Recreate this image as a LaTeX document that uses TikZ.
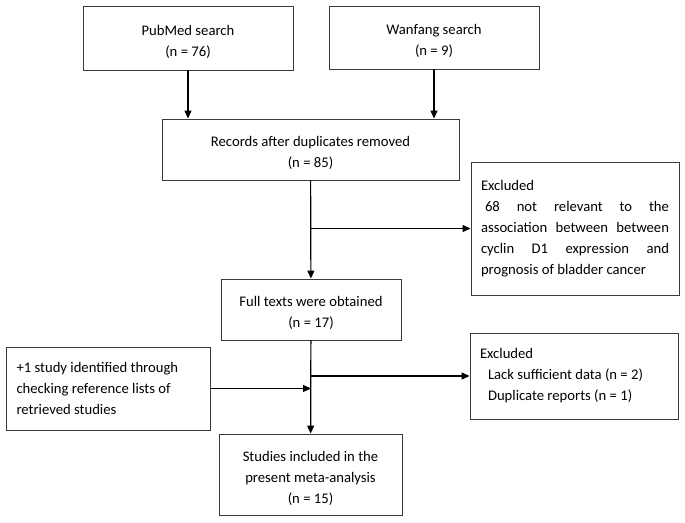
\documentclass[tikz,border=0pt]{standalone}
\usepackage{fontspec}
\setmainfont{Carlito}
\usetikzlibrary{positioning, calc, arrows.meta}
\definecolor{boxLine}{HTML}{3A3A3A}

\tikzset{
  flowbox/.style={draw=boxLine, line width=0.9pt, align=flush center, inner xsep=10pt, inner ysep=0pt,
    text width=#1, text height=18pt, font=\fontsize{14.67pt}{21pt}\selectfont},
  sidebox/.style={draw=boxLine, line width=0.9pt, inner xsep=10pt, inner ysep=0pt,
    text width=#1, font=\fontsize{14.67pt}{21pt}\selectfont},
  flowarrow/.style={-{Triangle[length=8pt,width=7pt]}, line width=1.2pt}
}

\begin{document}
\begin{tikzpicture}[x=1pt,y=-1pt]
\useasboundingbox (0,0) rectangle (685,522);

% searches
\node[flowbox=190pt, minimum height=64pt] (pubmed) at (188,38) {PubMed search\\(n = 76)};
\node[flowbox=190pt, minimum height=63pt] (wanfang) at (434,37.5) {Wanfang search\\(n = 9)};

% main column
\node[flowbox=277pt, minimum height=61pt] (records) at (310.5,149.5) {Records after duplicates removed\\(n = 85)};
\node[flowbox=160pt, minimum height=61pt] (fulltext) at (311,309.5) {Full texts were obtained\\(n = 17)};
\node[flowbox=163pt, minimum height=81pt] (included) at (310.5,474.5) {Studies included in the\\present meta-analysis\\(n = 15)};

% side boxes
\node[sidebox=188pt, align=justify, minimum height=133pt] (excludedA) at (575,228.5)
  {Excluded\\\hspace*{4pt}68 not relevant to the\linebreak association between between\linebreak cyclin D1 expression and\linebreak prognosis of bladder cancer};
\node[sidebox=188pt, align=flush left, minimum height=86pt] (excludedB) at (574,376)
  {Excluded\\\hspace*{8pt}Lack sufficient data (n = 2)\\\hspace*{8pt}Duplicate reports (n = 1)};
\node[sidebox=184pt, align=flush left, minimum height=83pt] (extra) at (108.5,388.5)
  {+1 study identified through\\checking reference lists of\\retrieved studies};

% connectors
\draw[flowarrow] (pubmed) -- (pubmed |- records.north);
\draw[flowarrow] (wanfang) -- (wanfang |- records.north);
\draw[flowarrow] (records) -- (fulltext);
\draw[flowarrow] (excludedA.west -| records.south) -- (excludedA.west);
\draw[flowarrow] (fulltext) -- (included);
\draw[flowarrow] (excludedB.west -| fulltext.south) -- (excludedB.west);
\draw[flowarrow] (extra.east) -- (extra.east -| fulltext.south);
\end{tikzpicture}
\end{document}
